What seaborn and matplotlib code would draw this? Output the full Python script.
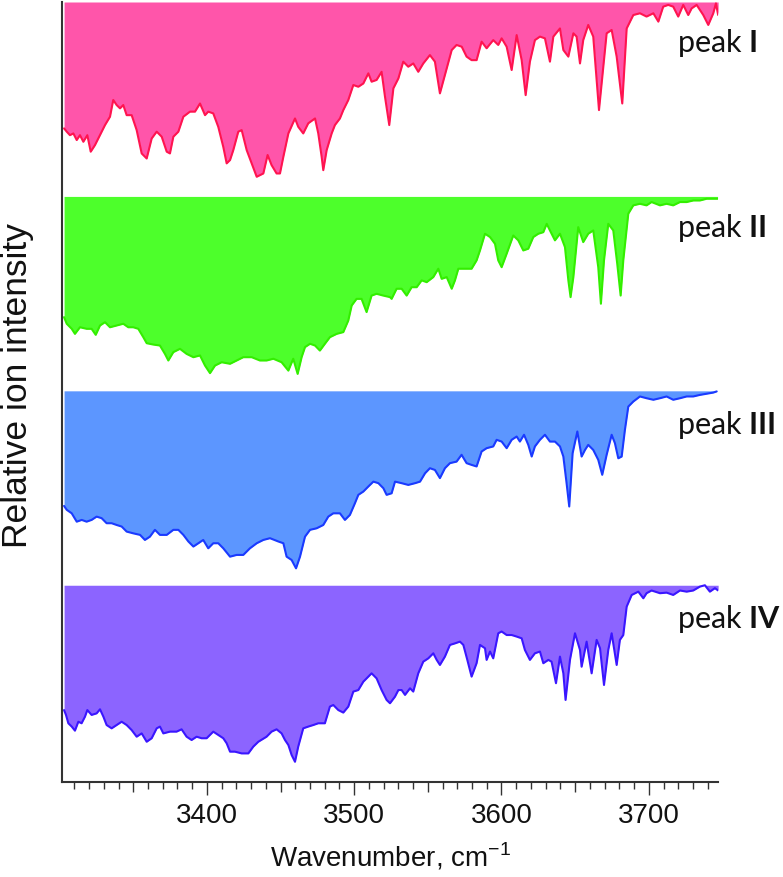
import matplotlib
matplotlib.use("Agg")
import matplotlib.pyplot as plt
import numpy as np
import seaborn as sns
from matplotlib.ticker import MultipleLocator

# (wavenumber in cm-1, depletion as a fraction of the trace spacing)
peak_1 = [
    (3303.0, 0.650), (3304.8, 0.667), (3307.0, 0.685), (3309.3, 0.676), (3311.6, 0.710),
    (3313.8, 0.685), (3316.1, 0.719), (3318.8, 0.685), (3321.1, 0.770), (3324.0, 0.736),
    (3327.4, 0.685), (3330.8, 0.633), (3334.2, 0.590), (3336.4, 0.504), (3338.7, 0.530),
    (3341.0, 0.547), (3343.2, 0.530), (3345.5, 0.582), (3348.9, 0.582), (3352.3, 0.659),
    (3355.7, 0.779), (3359.1, 0.805), (3362.5, 0.702), (3365.9, 0.667), (3369.3, 0.693),
    (3372.7, 0.770), (3374.9, 0.779), (3377.2, 0.693), (3380.6, 0.667), (3384.0, 0.590),
    (3388.5, 0.564), (3391.9, 0.564), (3395.3, 0.522), (3398.7, 0.582), (3400.9, 0.564),
    (3404.3, 0.573), (3407.7, 0.642), (3411.1, 0.745), (3413.4, 0.830), (3415.7, 0.813),
    (3417.9, 0.762), (3421.3, 0.667), (3423.6, 0.659), (3427.0, 0.762), (3430.4, 0.830),
    (3433.8, 0.899), (3438.3, 0.882), (3441.2, 0.787), (3443.9, 0.839), (3447.3, 0.882),
    (3449.6, 0.882), (3451.9, 0.796), (3455.3, 0.676), (3459.8, 0.599), (3462.0, 0.642),
    (3465.4, 0.676), (3468.8, 0.624), (3473.4, 0.599), (3475.6, 0.676), (3477.9, 0.796),
    (3479.0, 0.865), (3481.3, 0.762), (3484.7, 0.676), (3486.9, 0.633), (3490.3, 0.599),
    (3492.6, 0.556), (3496.0, 0.504), (3499.4, 0.427), (3502.8, 0.436), (3506.2, 0.419),
    (3509.6, 0.367), (3511.8, 0.410), (3515.2, 0.401), (3518.6, 0.359), (3520.9, 0.487),
    (3523.8, 0.633), (3526.6, 0.444), (3530.0, 0.393), (3533.3, 0.307), (3536.7, 0.333),
    (3540.1, 0.316), (3543.5, 0.359), (3546.9, 0.316), (3551.4, 0.273), (3554.8, 0.307),
    (3558.2, 0.470), (3561.6, 0.376), (3566.2, 0.247), (3569.5, 0.221), (3573.0, 0.230),
    (3576.3, 0.281), (3579.7, 0.299), (3583.1, 0.299), (3586.5, 0.204), (3589.9, 0.238),
    (3594.4, 0.196), (3597.8, 0.221), (3600.1, 0.187), (3603.5, 0.230), (3606.9, 0.350),
    (3610.3, 0.170), (3613.7, 0.299), (3616.4, 0.479), (3619.3, 0.307), (3622.7, 0.196),
    (3626.1, 0.178), (3629.5, 0.187), (3632.9, 0.307), (3635.2, 0.178), (3639.7, 0.136),
    (3642.0, 0.247), (3645.4, 0.281), (3648.8, 0.161), (3651.0, 0.178), (3653.3, 0.316),
    (3655.5, 0.196), (3658.9, 0.118), (3662.3, 0.178), (3666.2, 0.556), (3668.0, 0.419),
    (3671.4, 0.161), (3674.8, 0.144), (3678.2, 0.281), (3682.0, 0.522), (3685.0, 0.136),
    (3689.5, 0.067), (3694.0, 0.058), (3698.5, 0.075), (3703.1, 0.058), (3706.5, 0.101),
    (3709.8, 0.024), (3713.2, 0.015), (3716.6, 0.024), (3720.0, 0.075), (3723.4, 0.015),
    (3726.8, 0.067), (3729.1, 0.033), (3732.5, 0.015), (3737.0, 0.067), (3740.4, 0.118),
    (3743.8, 0.058), (3745.6, 0.007), (3747.1, 0.067),
]

peak_2 = [
    (3303.0, 0.621), (3304.8, 0.655), (3308.2, 0.681), (3310.4, 0.707), (3313.8, 0.673),
    (3318.3, 0.681), (3321.7, 0.681), (3324.5, 0.712), (3327.4, 0.664), (3330.8, 0.647),
    (3334.2, 0.673), (3338.7, 0.664), (3343.2, 0.655), (3346.6, 0.673), (3350.0, 0.673),
    (3353.4, 0.681), (3356.8, 0.724), (3359.1, 0.755), (3363.6, 0.762), (3368.1, 0.767),
    (3371.5, 0.810), (3373.8, 0.844), (3377.2, 0.801), (3381.7, 0.784), (3386.2, 0.810),
    (3390.8, 0.827), (3395.3, 0.818), (3398.7, 0.870), (3402.1, 0.909), (3405.5, 0.870),
    (3410.0, 0.853), (3415.7, 0.861), (3420.2, 0.844), (3424.7, 0.827), (3430.4, 0.827),
    (3436.0, 0.844), (3440.5, 0.844), (3445.1, 0.835), (3450.7, 0.853), (3455.3, 0.896),
    (3458.6, 0.835), (3461.6, 0.913), (3464.3, 0.827), (3466.6, 0.775), (3470.0, 0.758),
    (3473.4, 0.767), (3476.7, 0.793), (3480.1, 0.758), (3483.5, 0.724), (3488.1, 0.707),
    (3492.6, 0.698), (3496.0, 0.638), (3498.3, 0.561), (3501.6, 0.527), (3505.0, 0.527),
    (3508.4, 0.595), (3511.8, 0.510), (3515.2, 0.501), (3519.7, 0.510), (3524.3, 0.518),
    (3525.4, 0.527), (3528.8, 0.475), (3532.2, 0.475), (3535.6, 0.510), (3539.0, 0.467),
    (3542.4, 0.467), (3545.8, 0.432), (3549.2, 0.441), (3553.7, 0.415), (3557.1, 0.372),
    (3559.4, 0.424), (3562.8, 0.415), (3566.2, 0.475), (3568.4, 0.432), (3570.7, 0.372),
    (3576.3, 0.372), (3579.7, 0.372), (3583.1, 0.329), (3585.4, 0.278), (3588.8, 0.192),
    (3592.2, 0.209), (3595.6, 0.244), (3597.8, 0.329), (3600.1, 0.364), (3603.5, 0.295),
    (3608.0, 0.201), (3611.4, 0.226), (3614.8, 0.278), (3618.2, 0.269), (3621.6, 0.209),
    (3625.0, 0.192), (3628.4, 0.184), (3630.7, 0.141), (3632.9, 0.175), (3636.3, 0.226),
    (3639.7, 0.192), (3643.1, 0.261), (3645.4, 0.432), (3646.9, 0.518), (3648.8, 0.415),
    (3652.1, 0.158), (3655.5, 0.235), (3658.9, 0.192), (3662.3, 0.175), (3665.7, 0.364),
    (3667.5, 0.552), (3669.6, 0.329), (3672.5, 0.141), (3675.9, 0.175), (3678.6, 0.347),
    (3680.9, 0.510), (3682.7, 0.329), (3686.1, 0.089), (3689.5, 0.046), (3694.0, 0.038),
    (3698.5, 0.046), (3701.9, 0.029), (3707.6, 0.046), (3712.1, 0.038), (3716.6, 0.046),
    (3721.2, 0.029), (3725.7, 0.029), (3730.2, 0.021), (3734.7, 0.021), (3739.3, 0.012),
    (3743.8, 0.012), (3746.7, 0.012),
]

peak_3 = [
    (3303.0, 0.592), (3304.8, 0.612), (3308.2, 0.630), (3311.6, 0.673), (3315.0, 0.664),
    (3318.3, 0.673), (3321.7, 0.664), (3325.1, 0.647), (3328.5, 0.655), (3331.9, 0.681),
    (3335.3, 0.681), (3338.7, 0.690), (3342.1, 0.698), (3345.5, 0.724), (3350.0, 0.733),
    (3354.6, 0.741), (3357.9, 0.767), (3361.3, 0.750), (3364.7, 0.715), (3368.1, 0.741),
    (3372.7, 0.741), (3377.2, 0.715), (3380.6, 0.715), (3384.0, 0.741), (3387.4, 0.775),
    (3390.8, 0.801), (3394.2, 0.784), (3397.5, 0.767), (3400.9, 0.810), (3404.3, 0.784),
    (3407.7, 0.784), (3411.1, 0.810), (3415.7, 0.853), (3420.2, 0.844), (3424.7, 0.844),
    (3429.2, 0.810), (3433.8, 0.784), (3438.3, 0.767), (3442.8, 0.758), (3448.5, 0.775),
    (3451.9, 0.784), (3454.1, 0.853), (3457.5, 0.870), (3460.5, 0.913), (3463.2, 0.853),
    (3466.6, 0.750), (3470.0, 0.715), (3474.5, 0.707), (3479.0, 0.690), (3482.4, 0.647),
    (3485.8, 0.630), (3490.3, 0.630), (3493.7, 0.664), (3497.1, 0.638), (3500.5, 0.578),
    (3502.8, 0.535), (3506.2, 0.518), (3509.6, 0.492), (3513.0, 0.467), (3516.4, 0.475),
    (3519.8, 0.501), (3522.0, 0.535), (3525.4, 0.527), (3527.7, 0.467), (3532.2, 0.475),
    (3536.7, 0.484), (3541.3, 0.475), (3544.7, 0.467), (3548.1, 0.424), (3551.4, 0.398),
    (3554.8, 0.407), (3558.2, 0.449), (3561.6, 0.398), (3565.0, 0.372), (3569.5, 0.364),
    (3572.9, 0.329), (3576.3, 0.372), (3579.7, 0.381), (3583.1, 0.389), (3586.5, 0.312),
    (3589.9, 0.295), (3594.4, 0.286), (3596.7, 0.252), (3600.1, 0.261), (3603.5, 0.295),
    (3606.9, 0.252), (3610.3, 0.235), (3612.5, 0.261), (3615.3, 0.226), (3618.2, 0.278),
    (3620.5, 0.338), (3622.7, 0.286), (3626.1, 0.252), (3629.5, 0.226), (3632.9, 0.261),
    (3636.3, 0.261), (3639.7, 0.286), (3642.0, 0.338), (3644.2, 0.475), (3646.0, 0.595),
    (3648.3, 0.321), (3651.5, 0.209), (3654.4, 0.338), (3656.7, 0.304), (3658.9, 0.278),
    (3662.3, 0.304), (3665.7, 0.355), (3668.4, 0.432), (3671.4, 0.329), (3674.8, 0.226),
    (3677.0, 0.269), (3679.3, 0.347), (3681.6, 0.338), (3683.8, 0.201), (3686.1, 0.081),
    (3689.5, 0.055), (3694.0, 0.029), (3698.5, 0.038), (3703.1, 0.046), (3707.6, 0.038),
    (3712.1, 0.029), (3716.6, 0.046), (3721.2, 0.038), (3725.7, 0.029), (3730.2, 0.029),
    (3734.7, 0.021), (3739.3, 0.015), (3743.8, 0.009), (3746.1, 0.003),
]

peak_4 = [
    (3303.0, 0.642), (3304.3, 0.667), (3305.9, 0.710), (3308.2, 0.727), (3310.4, 0.748),
    (3312.7, 0.702), (3314.9, 0.710), (3317.2, 0.676), (3318.8, 0.642), (3321.7, 0.667),
    (3325.1, 0.659), (3327.4, 0.638), (3329.7, 0.676), (3331.9, 0.719), (3335.3, 0.736),
    (3338.7, 0.719), (3342.1, 0.702), (3345.5, 0.719), (3348.9, 0.745), (3352.3, 0.779),
    (3355.7, 0.762), (3359.1, 0.805), (3362.5, 0.787), (3365.9, 0.736), (3368.1, 0.727),
    (3370.4, 0.762), (3374.9, 0.753), (3379.4, 0.753), (3382.8, 0.741), (3386.2, 0.779),
    (3389.6, 0.796), (3393.0, 0.779), (3396.4, 0.787), (3399.8, 0.787), (3404.3, 0.753),
    (3407.7, 0.770), (3411.1, 0.787), (3413.4, 0.813), (3415.7, 0.856), (3419.0, 0.856),
    (3423.6, 0.865), (3428.1, 0.865), (3431.5, 0.830), (3434.9, 0.805), (3440.5, 0.779),
    (3443.9, 0.753), (3447.3, 0.741), (3450.7, 0.762), (3453.0, 0.796), (3455.3, 0.822),
    (3457.5, 0.873), (3459.8, 0.908), (3462.0, 0.830), (3465.4, 0.736), (3468.8, 0.727),
    (3472.2, 0.719), (3475.6, 0.710), (3480.1, 0.710), (3483.5, 0.624), (3485.8, 0.616),
    (3489.2, 0.642), (3492.6, 0.655), (3496.0, 0.624), (3499.4, 0.547), (3502.8, 0.539),
    (3506.2, 0.496), (3508.4, 0.479), (3511.8, 0.453), (3515.2, 0.479), (3518.6, 0.539),
    (3522.0, 0.590), (3524.3, 0.607), (3527.7, 0.573), (3530.0, 0.539), (3532.2, 0.539),
    (3534.5, 0.564), (3537.9, 0.530), (3540.1, 0.547), (3543.5, 0.453), (3546.9, 0.393),
    (3550.3, 0.376), (3553.7, 0.350), (3556.0, 0.384), (3558.2, 0.410), (3561.6, 0.367),
    (3565.0, 0.307), (3568.4, 0.299), (3571.8, 0.290), (3574.1, 0.307), (3576.8, 0.384),
    (3579.7, 0.470), (3583.1, 0.401), (3585.4, 0.307), (3588.8, 0.324), (3589.9, 0.384),
    (3592.2, 0.341), (3594.4, 0.376), (3597.8, 0.247), (3600.1, 0.238), (3603.5, 0.256),
    (3606.9, 0.256), (3610.3, 0.264), (3613.7, 0.273), (3615.9, 0.333), (3619.3, 0.384),
    (3622.7, 0.350), (3626.1, 0.341), (3628.4, 0.401), (3631.8, 0.384), (3634.0, 0.393),
    (3637.0, 0.504), (3639.7, 0.367), (3642.0, 0.453), (3643.5, 0.590), (3646.5, 0.384),
    (3649.9, 0.247), (3653.3, 0.333), (3654.4, 0.419), (3657.8, 0.290), (3661.2, 0.453),
    (3664.6, 0.281), (3666.9, 0.324), (3669.6, 0.513), (3672.5, 0.333), (3674.8, 0.247),
    (3678.2, 0.410), (3680.4, 0.281), (3682.7, 0.256), (3685.0, 0.110), (3688.4, 0.050),
    (3692.9, 0.033), (3696.3, 0.067), (3698.5, 0.041), (3701.9, 0.027), (3707.6, 0.041),
    (3712.1, 0.038), (3716.6, 0.050), (3721.2, 0.027), (3725.7, 0.033), (3730.2, 0.027),
    (3734.7, 0.007), (3738.1, 0.000), (3741.5, 0.033), (3744.9, 0.015), (3747.1, 0.027),
]

spectra = [peak_1, peak_2, peak_3, peak_4]
peak_names = ["I", "II", "III", "IV"]
offsets = [3, 2, 1, 0]

fill_colors = ["#FF55AA", "#4DFF2B", "#5C96FF", "#8C64FF"]
line_colors = ["#FF1450", "#33EE00", "#1A3AFF", "#3A16FF"]
label_dy = [-0.21, -0.16, -0.175, -0.175]

sns.set_theme(style="white")
plt.rcParams["font.family"] = ["Liberation Sans", "DejaVu Sans"]
plt.rcParams["mathtext.fontset"] = "custom"
plt.rcParams["mathtext.rm"] = "Liberation Sans"
plt.rcParams["mathtext.bf"] = "Lato:bold"

fig = plt.figure(figsize=(7.83, 8.77), dpi=100)
ax = fig.add_axes([62 / 783, 1 - 782 / 877, 656 / 783, 780 / 877])

for spec, off, fc, lc, name, dy in zip(spectra, offsets, fill_colors, line_colors, peak_names, label_dy):
    wn, dep = np.array(spec).T
    trace = off - dep
    ax.fill_between(wn, off, trace, color=fc, linewidth=0)
    sns.lineplot(x=wn, y=trace, color=lc, linewidth=1.5, ax=ax, sort=False)
    ax.text(3719, off + dy, f"peak $\\mathbf{{{name}}}$", family="Lato",
            fontsize=22, ha="left", va="center", color="#111111")

ax.set_xlim(3301.6, 3747)
ax.set_ylim(-1.012, 3.0)
ax.set_yticks([])

for side in ["top", "right"]:
    ax.spines[side].set_visible(False)
for side in ["left", "bottom"]:
    ax.spines[side].set_color("#333333")
    ax.spines[side].set_linewidth(1.5)

ax.xaxis.set_major_locator(MultipleLocator(100))
ax.xaxis.set_minor_locator(MultipleLocator(10))
ax.tick_params(axis="x", which="major", bottom=True, direction="out", length=9.4,
               width=1, color="#333333", labelsize=20, pad=5.5, labelcolor="#111111")
ax.tick_params(axis="x", which="minor", bottom=True, direction="out", length=5,
               width=1, color="#333333")

# mid-length ticks at the 50s
for loc, tick in zip(ax.xaxis.get_minorticklocs(), ax.xaxis.get_minor_ticks()):
    if round(loc) % 50 == 0:
        tick.tick1line.set_markersize(7.2)

ax.set_xlabel("Wavenumber, cm$^{-1}$", fontsize=20, labelpad=9, color="#111111")
ax.set_ylabel("Relative ion intensity", fontsize=25.5, color="#111111")
ax.yaxis.set_label_coords(-0.043, 0.508)

fig.savefig("out.png", dpi=100)
plt.close(fig)
